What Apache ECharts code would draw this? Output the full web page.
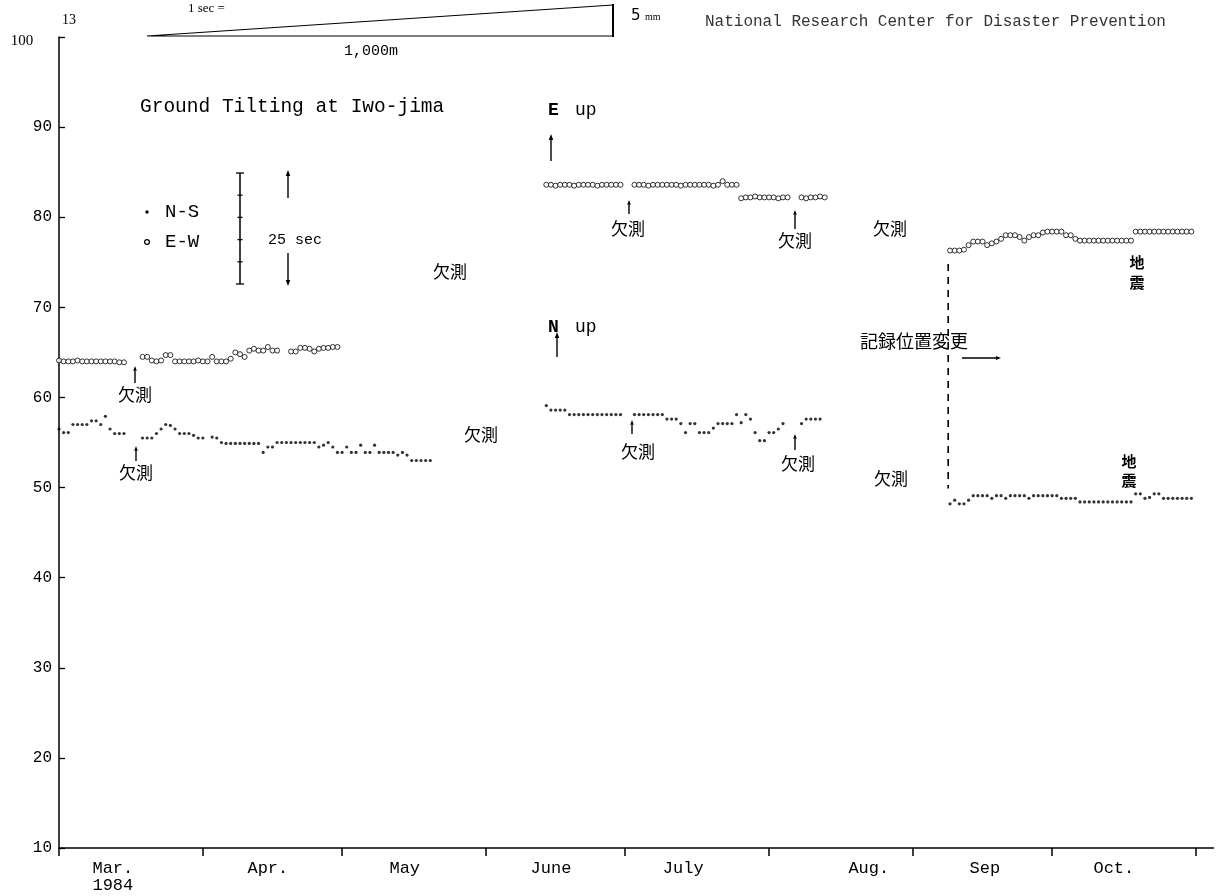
<!DOCTYPE html>
<html>
<head>
<meta charset="utf-8">
<script src="https://cdn.jsdelivr.net/npm/echarts@6/dist/echarts.min.js"></script>
<style>
  html, body { margin: 0; padding: 0; background: #fff; }
  #chart { width: 1228px; height: 896px; }
</style>
</head>
<body>
<div id="chart"></div>
<script>
// Day numbers count from 1 March 1984 (day 0); one reading per day.
const monthStarts = [0, 31, 61, 92, 122, 153, 184, 214, 245];
const monthNames = ['Mar.\n1984', 'Apr.', 'May', 'June', 'July', 'Aug.', 'Sep', 'Oct.'];
const monthLabelDays = [11.6, 45, 74.5, 106, 134.5, 174.5, 199.5, 227.3];
const yTickValues = [10, 20, 30, 40, 50, 60, 70, 80, 90, 100];

// E-W component (open circles), one array per continuous run of readings
const ewStartDays = [0, 18, 50, 105, 124, 147, 160, 192];
const ewMar = [64.1, 64.0, 64.0, 64.0, 64.1, 64.0, 64.0, 64.0, 64.0, 64.0, 64.0, 64.0, 64.0, 63.9, 63.9];
const ewApr = [64.5, 64.5, 64.1, 64.0, 64.1, 64.7, 64.7, 64.0, 64.0, 64.0, 64.0, 64.0, 64.1, 64.0, 64.0,
               64.5, 64.0, 64.0, 64.0, 64.3, 65.0, 64.8, 64.5, 65.2, 65.4, 65.2, 65.2, 65.6, 65.2, 65.2];
const ewMay = [65.1, 65.1, 65.5, 65.5, 65.4, 65.1, 65.4, 65.5, 65.5, 65.6, 65.6];
const ewJun = [83.6, 83.6, 83.5, 83.6, 83.6, 83.6, 83.5, 83.6, 83.6, 83.6, 83.6, 83.5, 83.6, 83.6, 83.6, 83.6, 83.6];
const ewJul = [83.6, 83.6, 83.6, 83.5, 83.6, 83.6, 83.6, 83.6, 83.6, 83.6, 83.5, 83.6, 83.6, 83.6, 83.6, 83.6,
               83.6, 83.5, 83.6, 84.0, 83.6, 83.6, 83.6];
const ewJulLate = [82.1, 82.2, 82.2, 82.3, 82.2, 82.2, 82.2, 82.2, 82.1, 82.2, 82.2];
const ewAug = [82.2, 82.1, 82.2, 82.2, 82.3, 82.2];
const ewSepOct = [76.3, 76.3, 76.3, 76.4, 76.9, 77.3, 77.3, 77.3, 76.9, 77.1, 77.3, 77.6, 78.0, 78.0, 78.0, 77.8,
                  77.4, 77.8, 78.0, 78.0, 78.3, 78.4, 78.4, 78.4, 78.4, 78.0, 78.0, 77.6, 77.4, 77.4, 77.4, 77.4,
                  77.4, 77.4, 77.4, 77.4, 77.4, 77.4, 77.4, 77.4, 78.4, 78.4, 78.4, 78.4, 78.4, 78.4, 78.4, 78.4,
                  78.4, 78.4, 78.4, 78.4, 78.4];

// N-S component (dots)
const nsStartDays = [0, 18, 105, 124, 160, 192];
const nsMar = [56.5, 56.1, 56.1, 57.0, 57.0, 57.0, 57.0, 57.4, 57.4, 57.0, 57.9, 56.5, 56.0, 56.0, 56.0];
const nsAprMay = [55.5, 55.5, 55.5, 56.0, 56.5, 57.0, 56.9, 56.5, 56.0, 56.0, 56.0, 55.8, 55.5, 55.5, null,
                  55.6, 55.5, 55.0, 54.9, 54.9, 54.9, 54.9, 54.9, 54.9, 54.9, 54.9, 53.9, 54.5, 54.5, 55.0,
                  55.0, 55.0, 55.0, 55.0, 55.0, 55.0, 55.0, 55.0, 54.5, 54.7, 55.0, 54.5, 53.9, 53.9, 54.5,
                  53.9, 53.9, 54.7, 53.9, 53.9, 54.7, 53.9, 53.9, 53.9, 53.9, 53.6, 53.9, 53.6, 53.0, 53.0,
                  53.0, 53.0, 53.0];
const nsJun = [59.1, 58.6, 58.6, 58.6, 58.6, 58.1, 58.1, 58.1, 58.1, 58.1, 58.1, 58.1, 58.1, 58.1, 58.1, 58.1, 58.1];
const nsJul = [58.1, 58.1, 58.1, 58.1, 58.1, 58.1, 58.1, 57.6, 57.6, 57.6, 57.1, 56.1, 57.1, 57.1, 56.1, 56.1,
               56.1, 56.6, 57.1, 57.1, 57.1, 57.1, 58.1, 57.2, 58.1, 57.6, 56.1, 55.2, 55.2, 56.1, 56.1, 56.5, 57.1];
const nsAug = [57.1, 57.6, 57.6, 57.6, 57.6];
const nsSepOct = [48.2, 48.6, 48.2, 48.2, 48.6, 49.1, 49.1, 49.1, 49.1, 48.8, 49.1, 49.1, 48.8, 49.1, 49.1, 49.1,
                  49.1, 48.8, 49.1, 49.1, 49.1, 49.1, 49.1, 49.1, 48.8, 48.8, 48.8, 48.8, 48.4, 48.4, 48.4, 48.4,
                  48.4, 48.4, 48.4, 48.4, 48.4, 48.4, 48.4, 48.4, 49.3, 49.3, 48.8, 48.9, 49.3, 49.3, 48.8, 48.8,
                  48.8, 48.8, 48.8, 48.8, 48.8];

// Day and level of the sensor relocation (dashed vertical line)
const relocationDay = 191.6;
const relocationSpan = [74.8, 49.9];

function toPoints(starts, runs) {
  const pts = [];
  runs.forEach((run, k) => {
    run.forEach((v, i) => { if (v !== null) pts.push([starts[k] + i, v]); });
  });
  return pts;
}

const ewData = toPoints(ewStartDays, [ewMar, ewApr, ewMay, ewJun, ewJul, ewJulLate, ewAug, ewSepOct]);
const nsData = toPoints(nsStartDays, [nsMar, nsAprMay, nsJun, nsJul, nsAug, nsSepOct]);

const MONO = '"Liberation Mono", "DejaVu Sans Mono", monospace';
const SERIF = '"Liberation Serif", "DejaVu Serif", serif';
const CJK = '"Noto Sans CJK JP", sans-serif';

function text(x, y, str, font, align, fill) {
  const a = align || 'center';
  return {
    type: 'text', x: x, y: y, silent: true,
    style: { text: str, font: font, fill: fill || '#000', textAlign: a, textVerticalAlign: 'middle', align: a, verticalAlign: 'middle' }
  };
}
function seg(x1, y1, x2, y2, w) {
  return { type: 'line', silent: true, shape: { x1: x1, y1: y1, x2: x2, y2: y2 }, style: { stroke: '#000', lineWidth: w || 1.2 } };
}
function arrow(x1, y1, x2, y2, size) {
  const s = size || 4;
  const dx = x2 - x1, dy = y2 - y1, len = Math.hypot(dx, dy);
  const ux = dx / len, uy = dy / len;
  const bx = x2 - ux * s * 1.7, by = y2 - uy * s * 1.7;
  const px = -uy * s * 0.65, py = ux * s * 0.65;
  return [
    seg(x1, y1, bx, by, 1.4),
    { type: 'polygon', silent: true, shape: { points: [[x2, y2], [bx + px, by + py], [bx - px, by - py]] }, style: { fill: '#000' } }
  ];
}

const missing = '欠測';
const annotations = [];
// header: scale triangle and institute
annotations.push(text(62, 20, '13', '14px ' + SERIF, 'left'));
annotations.push(text(22, 41, '100', '15px ' + SERIF));
annotations.push(text(188, 9, '1 sec =', '13px ' + SERIF, 'left'));
annotations.push({ type: 'polyline', silent: true, shape: { points: [[613, 36], [147, 36], [613, 5]] }, style: { stroke: '#000', lineWidth: 1.2, fill: null } });
annotations.push(seg(613, 4, 613, 37, 2));
annotations.push(text(371, 51, '1,000m', '15px ' + MONO));
annotations.push(text(631, 16, '5', '15px "DejaVu Sans", sans-serif', 'left'));
annotations.push(text(645, 17, 'mm', '10px ' + SERIF, 'left'));
annotations.push(text(705, 22, 'National Research Center for Disaster Prevention', '16px ' + MONO, 'left', '#333'));
// title and legend
annotations.push(text(140, 107, 'Ground Tilting at Iwo-jima', '19.5px ' + MONO, 'left'));
annotations.push({ type: 'circle', silent: true, shape: { cx: 147, cy: 212, r: 1.7 }, style: { fill: '#000' } });
annotations.push(text(165, 212, 'N-S', '19px ' + MONO, 'left'));
annotations.push({ type: 'circle', silent: true, shape: { cx: 147, cy: 242, r: 2.4 }, style: { fill: '#fff', stroke: '#000', lineWidth: 1.2 } });
annotations.push(text(165, 242, 'E-W', '19px ' + MONO, 'left'));
// 25 sec scale bar
annotations.push(seg(240, 173, 240, 284, 1.5));
[173, 195.2, 217.4, 239.6, 261.8, 284].forEach((y, i, arr) => {
  const half = (i === 0 || i === arr.length - 1) ? 4 : 2.5;
  annotations.push(seg(240 - half, y, 240 + half, y, 1.3));
});
annotations.push(...arrow(288, 198, 288, 170, 3.5));
annotations.push(...arrow(288, 253, 288, 286, 3.5));
annotations.push(text(268, 240, '25 sec', '15px ' + MONO, 'left'));
// direction markers
annotations.push(text(548, 110, 'E', 'bold 18px ' + MONO, 'left'));
annotations.push(text(575, 110, 'up', '18px ' + MONO, 'left'));
annotations.push(...arrow(551, 161, 551, 134, 3.5));
annotations.push(text(548, 327, 'N', 'bold 18px ' + MONO, 'left'));
annotations.push(text(575, 327, 'up', '18px ' + MONO, 'left'));
annotations.push(...arrow(557, 357, 557, 332, 3.5));
// gaps in the record
[[135, 383, 366], [136, 461, 446], [629, 214, 200], [795, 229, 210], [632, 434, 420], [795, 450, 434]]
  .forEach(a => annotations.push(...arrow(a[0], a[1], a[0], a[2], 2.8)));
[[135, 395], [136, 473], [450, 272], [481, 435], [628, 229], [795, 241], [638, 452], [798, 464], [890, 229], [891, 479]]
  .forEach(p => annotations.push(text(p[0], p[1], missing, '17px ' + CJK)));
// earthquake marks
annotations.push(text(1137, 262, '地', 'bold 15px ' + CJK));
annotations.push(text(1137, 282, '震', 'bold 15px ' + CJK));
annotations.push(text(1129, 461, '地', 'bold 15px ' + CJK));
annotations.push(text(1129, 480, '震', 'bold 15px ' + CJK));
// sensor relocation
annotations.push(text(914, 341, '記録位置変更', '18px ' + CJK));
annotations.push(...arrow(962, 358, 1001, 358, 3));
// axis runs a little past the last month tick
annotations.push(seg(1196, 848, 1214, 848, 1.5));

const chart = echarts.init(document.getElementById('chart'), null, { renderer: 'canvas' });
chart.setOption({
  animation: false,
  backgroundColor: '#fff',
  grid: { left: 59, right: 32, top: 37, bottom: 48, containLabel: false },
  xAxis: {
    type: 'value', min: 0, max: 245,
    axisLine: { lineStyle: { color: '#000', width: 1.5 } },
    splitLine: { show: false },
    axisTick: { customValues: monthStarts, length: 8, lineStyle: { color: '#000', width: 1.5 } },
    axisLabel: {
      customValues: monthLabelDays,
      formatter: v => {
        const i = monthLabelDays.findIndex(d => Math.abs(d - v) < 0.01);
        return i >= 0 ? monthNames[i] : '';
      },
      color: '#000', fontFamily: MONO, fontSize: 17, lineHeight: 17, margin: 12
    }
  },
  yAxis: {
    type: 'value', min: 10, max: 100, interval: 10,
    axisLine: { show: true, lineStyle: { color: '#000', width: 1.5 } },
    splitLine: { show: false },
    axisTick: { show: true, inside: true, length: 6, lineStyle: { color: '#000', width: 1.3 } },
    axisLabel: {
      customValues: yTickValues,
      // the top value is set in the serif face of the header
      formatter: v => (v === 100 ? '' : String(v)),
      color: '#000', fontFamily: MONO, fontSize: 16, margin: 7
    }
  },
  series: [
    {
      name: 'N-S', type: 'scatter', data: nsData, symbol: 'circle', symbolSize: 3.2,
      itemStyle: { color: '#000' }, silent: true
    },
    {
      name: 'E-W', type: 'scatter', data: ewData, symbol: 'circle', symbolSize: 5,
      itemStyle: { color: '#fff', borderColor: '#000', borderWidth: 1 }, silent: true
    },
    {
      name: 'relocation', type: 'line', symbol: 'none', silent: true,
      data: [[relocationDay, relocationSpan[0]], [relocationDay, relocationSpan[1]]],
      lineStyle: { color: '#000', width: 1.6, type: [7, 6] }
    }
  ],
  graphic: { elements: annotations }
});
</script>
</body>
</html>
